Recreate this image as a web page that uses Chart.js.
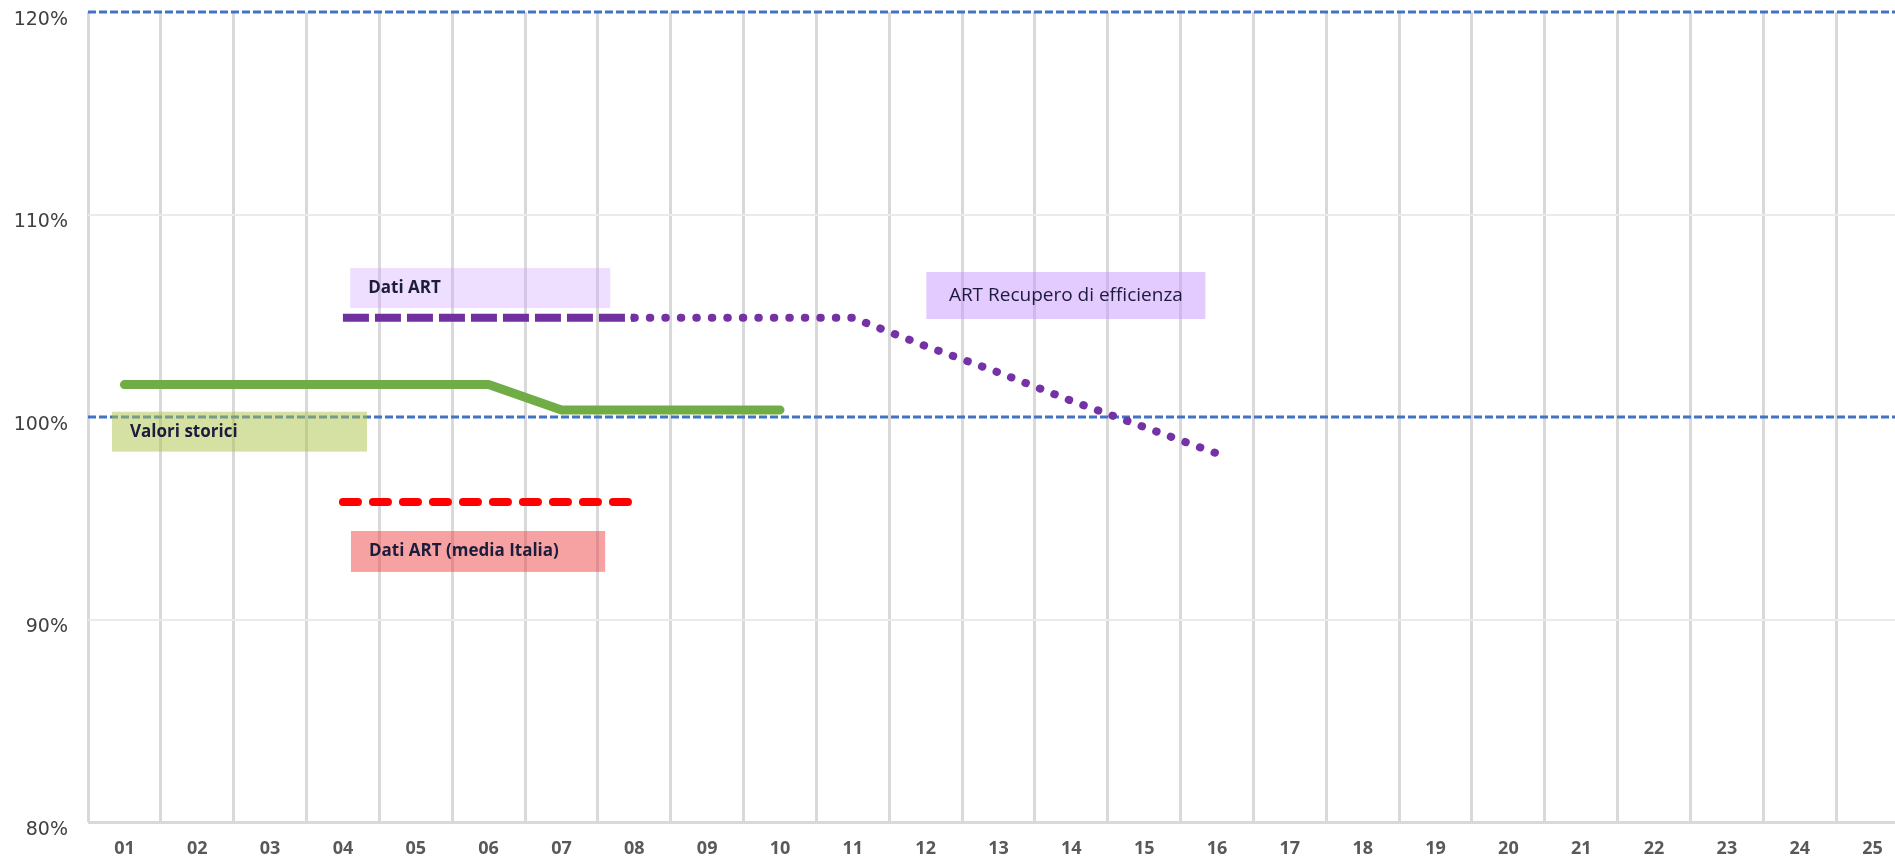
<!DOCTYPE html>
<html>
<head>
<meta charset="utf-8">
<title>Valori storici e Dati ART</title>
<script src="https://cdn.jsdelivr.net/npm/chart.js@4.4.1/dist/chart.umd.min.js"></script>
<style>
  html, body { margin: 0; padding: 0; overflow: hidden; background: #fff; }
  canvas { display: block; }
</style>
</head>
<body>
<canvas id="chart" width="1912" height="861"></canvas>
<script>
// ─── Data ─────────────────────────────────────────────────────────
const PERIODS = ["01", "02", "03", "04", "05", "06", "07", "08", "09", "10", "11", "12", "13",
  "14", "15", "16", "17", "18", "19", "20", "21", "22", "23", "24", "25"];

const VALORI_STORICI = [101.6, 101.6, 101.6, 101.6, 101.6, 101.6, 100.35, 100.35, 100.35, 100.35];
const DATI_ART = [null, null, null, 104.9, 104.9, 104.9, 104.9, 104.9];
const ART_RECUPERO = [null, null, null, null, null, null, null, 104.9, 104.9, 104.9, 104.9,
  103.5, 102.2, 100.8, 99.5, 98.2];
const DATI_ART_ITALIA = [null, null, null, 95.8, 95.8, 95.8, 95.8, 95.8];

const Y_TICKS = [80, 90, 100, 110, 120];
const REF_LINES = [100, 120];

// Text boxes, placed in data units (category index / value)
const NOTES = [
  { text: "Dati ART", x0: 3.1, x1: 6.67, y0: 107.36, y1: 105.38,
    fill: "rgba(205, 160, 255, 0.35)", weight: "700", size: 17, align: "left" },
  { text: "Valori storici", x0: -0.17, x1: 3.33, y0: 100.26, y1: 98.29,
    fill: "rgba(170, 195, 70, 0.5)", weight: "700", size: 17, align: "left" },
  { text: "ART Recupero di efficienza", x0: 11.01, x1: 14.84, y0: 107.16, y1: 104.84,
    fill: "rgba(200, 150, 255, 0.5)", weight: "400", size: 19, align: "center" },
  { text: "Dati ART (media Italia)", x0: 3.11, x1: 6.6, y0: 94.37, y1: 92.35,
    fill: "rgba(240, 70, 70, 0.5)", weight: "700", size: 17, align: "left" },
];

// ─── Plugins ──────────────────────────────────────────────────────

// Blue dashed reference lines across the plot
const refLines = {
  id: "refLines",
  beforeDatasetsDraw(chart) {
    const { ctx, chartArea, scales } = chart;
    ctx.save();
    ctx.strokeStyle = "#4472c4";
    ctx.lineWidth = 3;
    ctx.setLineDash([8, 3]);
    REF_LINES.forEach((v) => {
      const py = Math.round(scales.y.getPixelForValue(v));
      ctx.beginPath();
      ctx.moveTo(chartArea.left, py);
      ctx.lineTo(chartArea.right, py);
      ctx.stroke();
    });
    ctx.restore();
  },
};

// Labelled boxes over the series
const noteBoxes = {
  id: "noteBoxes",
  afterDatasetsDraw(chart) {
    const { ctx, scales } = chart;
    ctx.save();
    NOTES.forEach((n) => {
      const left = scales.x.getPixelForValue(n.x0);
      const right = scales.x.getPixelForValue(n.x1);
      const top = scales.y.getPixelForValue(n.y0);
      const bottom = scales.y.getPixelForValue(n.y1);
      ctx.fillStyle = n.fill;
      ctx.fillRect(left, top, right - left, bottom - top);

      ctx.fillStyle = "#1c1c3c";
      ctx.font = `${n.weight} ${n.size}px "Open Sans", sans-serif`;
      ctx.textBaseline = "middle";
      ctx.textAlign = n.align;
      const tx = n.align === "center" ? (left + right) / 2 : left + 18;
      ctx.fillText(n.text, tx, (top + bottom) / 2);
    });
    ctx.restore();
  },
};

// ─── Chart ────────────────────────────────────────────────────────
new Chart(document.getElementById("chart"), {
  type: "line",
  data: {
    labels: PERIODS,
    datasets: [
      {
        label: "Valori storici",
        data: VALORI_STORICI,
        borderColor: "#70ad47",
        borderWidth: 9,
        borderCapStyle: "round",
        borderJoinStyle: "round",
      },
      {
        label: "Dati ART",
        data: DATI_ART,
        borderColor: "#7030a0",
        borderWidth: 8,
        borderDash: [26, 6],
      },
      {
        label: "ART Recupero di efficienza",
        data: ART_RECUPERO,
        borderColor: "#7432a6",
        borderWidth: 8,
        borderDash: [0.5, 15],
        borderCapStyle: "round",
      },
      {
        label: "Dati ART (media Italia)",
        data: DATI_ART_ITALIA,
        borderColor: "#ff0000",
        borderWidth: 8,
        borderDash: [15, 15],
        borderCapStyle: "round",
      },
    ],
  },
  options: {
    responsive: false,
    animation: false,
    spanGaps: false,
    elements: { point: { radius: 0, hoverRadius: 0 }, line: { tension: 0 } },
    layout: { padding: { top: 12, right: 3, left: 0, bottom: 0 } },
    plugins: {
      legend: { display: false },
      tooltip: { enabled: false },
    },
    scales: {
      x: {
        offset: true,
        grid: {
          offset: true,
          color: "#d9d9d9",
          lineWidth: 3,
          drawTicks: false,
        },
        border: { display: false },
        ticks: {
          padding: 16,
          color: "#595959",
          font: { family: "'Open Sans', sans-serif", size: 18, weight: "700" },
        },
        afterFit: (scale) => {
          scale.height = 39;
          scale.paddingLeft = 0;
          scale.paddingRight = 0;
        },
      },
      y: {
        min: 80,
        max: 120,
        afterBuildTicks: (scale) => { scale.ticks = Y_TICKS.map((v) => ({ value: v })); },
        grid: {
          drawTicks: false,
          color: (ctx) => {
            const v = ctx.tick && ctx.tick.value;
            if (REF_LINES.includes(v)) return "rgba(0,0,0,0)";
            return v === 80 ? "#d9d9d9" : "#ebebeb";
          },
          lineWidth: (ctx) => (ctx.tick && ctx.tick.value === 80 ? 3 : 2),
        },
        border: { display: false },
        ticks: {
          padding: 20,
          labelOffset: 8,
          color: "#404040",
          font: { family: "'DejaVu Sans', sans-serif", size: 19 },
          callback: (v) => `${v}%`,
        },
        afterFit: (scale) => {
          scale.width = 88;
          scale.paddingTop = 0;
          scale.paddingBottom = 0;
        },
      },
    },
  },
  plugins: [refLines, noteBoxes],
});
</script>
</body>
</html>
